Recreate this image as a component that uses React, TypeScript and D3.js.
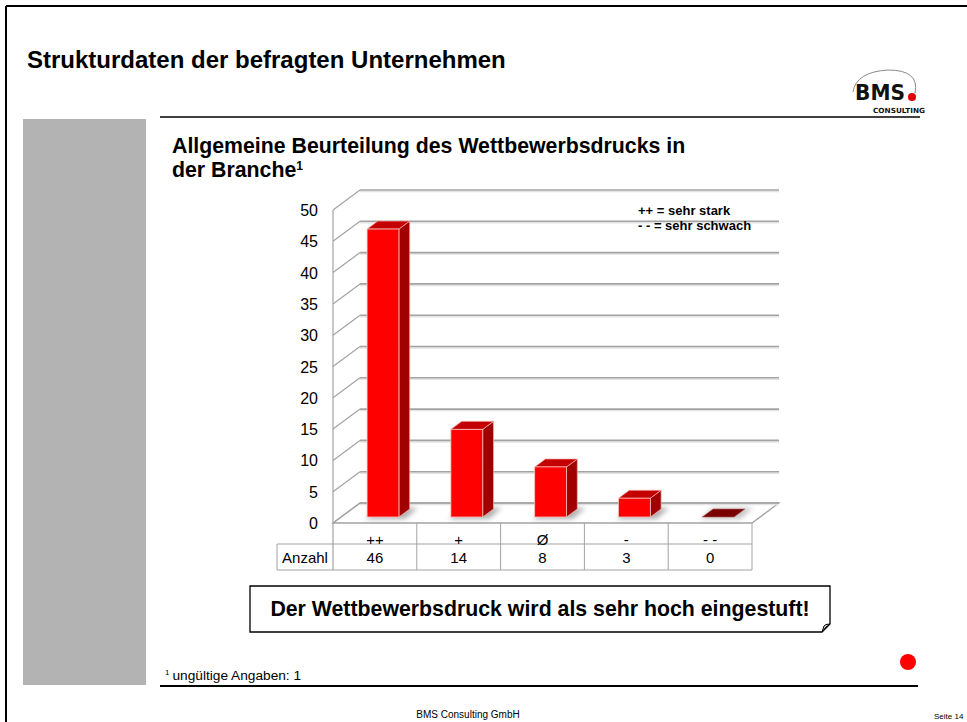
import React from 'react';
import * as d3 from 'd3';

const categories = ['++', '+', 'Ø', '-', '- -'];
const counts = [46, 14, 8, 3, 0];
const yTicks = [0, 5, 10, 15, 20, 25, 30, 35, 40, 45, 50];
const rowLabel = 'Anzahl';
const legendLines = ['++ = sehr stark', '- - = sehr schwach'];
const pageTitle = 'Strukturdaten der befragten Unternehmen';
const chartTitle1 = 'Allgemeine Beurteilung des Wettbewerbsdrucks in';
const chartTitle2 = 'der Branche';
const calloutText = 'Der Wettbewerbsdruck wird als sehr hoch eingestuft!';
const footnote = 'ungültige Angaben: 1';
const footer = 'BMS Consulting GmbH';
const pageNo = 'Seite 14';

const W = 967;
const H = 722;
const FONT = "'Liberation Sans', Arial, Helvetica, sans-serif";

export default function App() {
  const x = d3.scaleBand<string>().domain(categories).range([333, 752]);
  const y = d3.scaleLinear().domain([0, 50]).range([523, 210]);
  const DX = 27;
  const DY = -20;
  const f0 = 0.3;
  const fd = 0.4;
  const bw = x.bandwidth();
  const barW = bw * 0.38;
  const left = x.range()[0];
  const right = x.range()[1];
  const gridColor = '#a3a3a3';

  const pts = (p: [number, number][]) => p.map((d) => d.join(',')).join(' ');

  return (
    <svg
      width={W}
      height={H}
      viewBox={`0 0 ${W} ${H}`}
      style={{ position: 'absolute', left: 0, top: 0, background: '#fff' }}
      fontFamily={FONT}
    >
      <defs>
        <filter id="blur" x="-50%" y="-50%" width="200%" height="200%">
          <feGaussianBlur stdDeviation="2.5" />
        </filter>
      </defs>
      <rect x={0} y={0} width={W} height={H} fill="#fff" />
      {/* page border */}
      <line x1={6} y1={6} x2={W} y2={6} stroke="#000" strokeWidth={2} />
      <line x1={6} y1={6} x2={6} y2={H} stroke="#000" strokeWidth={2} />

      {/* page title */}
      <text x={27} y={68} fontSize={24} fontWeight="bold" fill="#000">
        {pageTitle}
      </text>

      {/* logo */}
      <path d="M853,92 Q856,72 888,70 Q920,70 915,93" fill="none" stroke="#8a8a8a" strokeWidth={1} />
      <text
        x={855}
        y={100}
        fontSize={22}
        fontWeight="bold"
        fontFamily="'DejaVu Sans', Arial, sans-serif"
        fill="#111"
        textLength={50}
        lengthAdjust="spacingAndGlyphs"
      >
        BMS
      </text>
      <circle cx={912} cy={97} r={4} fill="#e00000" />
      <text
        x={873}
        y={113}
        fontSize={7}
        fontWeight="bold"
        fontFamily="'DejaVu Sans', Arial, sans-serif"
        fill="#111"
        textLength={52}
        lengthAdjust="spacingAndGlyphs"
      >
        CONSULTING
      </text>

      {/* rule under title */}
      <line x1={160} y1={117} x2={920} y2={117} stroke="#000" strokeWidth={1.5} />
      {/* gray side band */}
      <rect x={23} y={119} width={123} height={566} fill="#b3b3b3" />

      {/* chart title */}
      <text x={172} y={153} fontSize={21.3} fontWeight="bold" fill="#000">
        {chartTitle1}
      </text>
      <text x={172} y={177} fontSize={21.3} fontWeight="bold" fill="#000">
        {chartTitle2}
        <tspan fontSize={12} dy={-7}>1</tspan>
      </text>

      {/* floor */}
      <polygon
        points={pts([
          [left, y(0)],
          [right, y(0)],
          [right + DX, y(0) + DY],
          [left + DX, y(0) + DY],
        ])}
        fill="#fff"
        stroke={gridColor}
        strokeWidth={1.3}
      />

      {/* gridlines on back wall and left wall */}
      {yTicks.map((t) => (
        <g key={t}>
          <line x1={left + DX} y1={y(t) + DY + 1.5} x2={right + DX} y2={y(t) + DY + 1.5} stroke="#e4e4e4" strokeWidth={1.5} />
          <line x1={left + DX} y1={y(t) + DY} x2={right + DX} y2={y(t) + DY} stroke={gridColor} strokeWidth={1.6} />
          <line x1={left} y1={y(t)} x2={left + DX} y2={y(t) + DY} stroke={gridColor} strokeWidth={1.2} />
          <text x={318} y={y(t) + 6} fontSize={16} textAnchor="end" fill="#000">
            {t}
          </text>
        </g>
      ))}
      <line x1={left} y1={y(50)} x2={left} y2={570} stroke={gridColor} strokeWidth={1.2} />

      {/* legend */}
      {legendLines.map((l, i) => (
        <text key={l} x={638} y={215 + i * 15} fontSize={13} fontWeight="bold" fill="#000">
          {l}
        </text>
      ))}

      {/* bar shadows */}
      {categories.map((c, i) => {
        const x0 = (x(c) as number) + (bw - barW) / 2 + f0 * DX;
        const yb = y(0) + f0 * DY;
        return (
          <polygon
            key={'s' + c}
            points={pts([
              [x0 - 2, yb + 2],
              [x0 + barW + 6, yb + 2],
              [x0 + barW + fd * DX + 8, yb + fd * DY - 1],
              [x0 + fd * DX, yb + fd * DY - 1],
            ])}
            fill="#6e6e6e"
            opacity={counts[i] > 0 ? 0.55 : 0.4}
            filter="url(#blur)"
          />
        );
      })}

      {/* bars */}
      {categories.map((c, i) => {
        const v = counts[i];
        const x0 = (x(c) as number) + (bw - barW) / 2 + f0 * DX;
        const yb = y(0) + f0 * DY;
        const yt = y(v) + f0 * DY;
        const ddx = fd * DX;
        const ddy = fd * DY;
        if (v === 0) {
          return (
            <polygon
              key={c}
              points={pts([
                [x0, yb],
                [x0 + barW, yb],
                [x0 + barW + ddx, yb + ddy],
                [x0 + ddx, yb + ddy],
              ])}
              fill="#7a0000"
              stroke="#b06060"
              strokeWidth={0.6}
            />
          );
        }
        return (
          <g key={c}>
            <polygon
              points={pts([
                [x0 + barW, yt],
                [x0 + barW + ddx, yt + ddy],
                [x0 + barW + ddx, yb + ddy],
                [x0 + barW, yb],
              ])}
              fill="#a00000"
              stroke="#f3b3b3"
              strokeWidth={0.7}
            />
            <polygon
              points={pts([
                [x0, yt],
                [x0 + barW, yt],
                [x0 + barW + ddx, yt + ddy],
                [x0 + ddx, yt + ddy],
              ])}
              fill="#c40000"
              stroke="#f3b3b3"
              strokeWidth={0.7}
            />
            <rect x={x0} y={yt} width={barW} height={yb - yt} fill="#ff0000" stroke="#f7c0c0" strokeWidth={0.8} />
          </g>
        );
      })}

      {/* data table */}
      <g stroke={gridColor} strokeWidth={1}>
        <line x1={277} y1={544} x2={right} y2={544} />
        <line x1={277} y1={570} x2={right} y2={570} />
        <line x1={277} y1={544} x2={277} y2={570} />
        {categories.map((c) => (
          <line key={'v' + c} x1={(x(c) as number) + bw} y1={y(0)} x2={(x(c) as number) + bw} y2={570} />
        ))}
      </g>
      {categories.map((c, i) => (
        <g key={'t' + c}>
          <text x={(x(c) as number) + bw / 2} y={545} fontSize={15} textAnchor="middle" fill="#000">
            {c}
          </text>
          <text x={(x(c) as number) + bw / 2} y={563} fontSize={15} textAnchor="middle" fill="#000">
            {counts[i]}
          </text>
        </g>
      ))}
      <text x={305} y={563} fontSize={15} textAnchor="middle" fill="#000">
        {rowLabel}
      </text>

      {/* callout */}
      <path d="M250,586 H830 V624 L822,632 H250 Z" fill="#fff" stroke="#000" strokeWidth={1.3} />
      <path d="M822,632 L824,626 Q825,624 830,624 Q826,626 822,632 Z" fill="#ddd" stroke="#000" strokeWidth={1} />
      <text x={540} y={616} fontSize={21.3} fontWeight="bold" textAnchor="middle" fill="#000">
        {calloutText}
      </text>

      {/* footnote */}
      <text x={165} y={680} fontSize={13.7} fill="#000">
        <tspan fontSize={8} dy={-5}>1</tspan>
        <tspan dy={5} dx={3}>{footnote}</tspan>
      </text>
      <circle cx={908} cy={662} r={8} fill="#ff0000" />
      <line x1={160} y1={686} x2={918} y2={686} stroke="#000" strokeWidth={2} />

      {/* footer */}
      <text x={468} y={718} fontSize={10} textAnchor="middle" fill="#000">
        {footer}
      </text>
      <text x={934} y={719} fontSize={8} fill="#000">
        {pageNo}
      </text>
    </svg>
  );
}
